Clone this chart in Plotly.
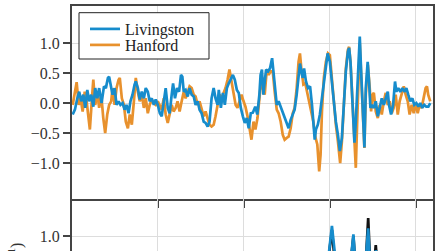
import plotly.graph_objects as go
from plotly.subplots import make_subplots

# ---- data (time in s, strain in 1e-21) ----
t_liv = [0.2504, 0.2517, 0.2531, 0.2542, 0.2554, 0.2566, 0.2577, 0.2589, 0.2600, 0.2612,
         0.2624, 0.2635, 0.2647, 0.2658, 0.2672, 0.2686, 0.2697, 0.2709, 0.2716, 0.2724,
         0.2736, 0.2748, 0.2759, 0.2771, 0.2782, 0.2794, 0.2806, 0.2817, 0.2829, 0.2840,
         0.2852, 0.2864, 0.2871, 0.2883, 0.2894, 0.2906, 0.2918, 0.2929, 0.2941, 0.2952,
         0.2964, 0.2976, 0.2987, 0.2999, 0.3011, 0.3022, 0.3034, 0.3045, 0.3057, 0.3068,
         0.3080, 0.3088, 0.3099, 0.3111, 0.3123, 0.3134, 0.3142, 0.3150, 0.3161, 0.3173,
         0.3184, 0.3196, 0.3208, 0.3219, 0.3231, 0.3242, 0.3254, 0.3266, 0.3277, 0.3289,
         0.3300, 0.3312, 0.3324, 0.3335, 0.3347, 0.3354, 0.3366, 0.3378, 0.3389, 0.3401,
         0.3412, 0.3424, 0.3436, 0.3447, 0.3459, 0.3470, 0.3482, 0.3494, 0.3505, 0.3517,
         0.3528, 0.3540, 0.3552, 0.3566, 0.3578, 0.3590, 0.3597, 0.3605, 0.3613, 0.3621,
         0.3629, 0.3641, 0.3652, 0.3664, 0.3671, 0.3679, 0.3691, 0.3702, 0.3714, 0.3726,
         0.3737, 0.3749, 0.3760, 0.3772, 0.3784, 0.3795, 0.3807, 0.3818, 0.3826, 0.3834,
         0.3842, 0.3850, 0.3861, 0.3873, 0.3885, 0.3896, 0.3908, 0.3912, 0.3919, 0.3930,
         0.3942, 0.3954, 0.3965, 0.3977, 0.3987, 0.4000, 0.4012, 0.4023, 0.4035, 0.4047,
         0.4058, 0.4070, 0.4081, 0.4093, 0.4105, 0.4112, 0.4120, 0.4131, 0.4143, 0.4151,
         0.4163, 0.4174, 0.4182, 0.4194, 0.4201, 0.4209, 0.4220, 0.4228, 0.4236, 0.4244,
         0.4256, 0.4267, 0.4279, 0.4290, 0.4302, 0.4314, 0.4325, 0.4337, 0.4344, 0.4356,
         0.4368, 0.4379, 0.4387, 0.4398, 0.4410, 0.4422, 0.4433, 0.4445, 0.4456, 0.4468,
         0.4480, 0.4491, 0.4503, 0.4515, 0.4526, 0.4538, 0.4549, 0.4561, 0.4573, 0.4584]
h_liv = [-0.19, -0.11, 0.08, 0.19, 0.03, 0.14, -0.08, 0.22, 0.03, 0.14,
         -0.06, 0.25, 0.08, 0.25, 0.00, 0.28, 0.25, 0.42, 0.44, 0.31,
         0.14, 0.25, -0.03, 0.03, -0.03, 0.00, -0.11, -0.03, -0.17, 0.03,
         0.14, 0.31, 0.36, 0.25, 0.06, 0.19, 0.08, 0.25, 0.19, 0.03,
         0.08, -0.03, 0.06, -0.03, -0.17, -0.22, 0.08, 0.25, -0.08, -0.17,
         0.14, 0.33, 0.08, 0.25, 0.19, 0.47, 0.44, 0.19, 0.22, 0.11,
         0.25, 0.14, 0.11, -0.03, 0.03, -0.11, -0.17, -0.31, -0.33, -0.39,
         -0.31, 0.08, 0.25, 0.08, -0.03, 0.22, -0.08, 0.17, -0.03, 0.25,
         0.33, 0.39, 0.47, 0.39, 0.22, 0.17, -0.08, -0.22, -0.33, -0.25,
         -0.42, -0.17, -0.16, -0.06, -0.19, 0.14, 0.47, 0.56, 0.14, 0.36,
         0.56, 0.53, 0.58, 0.75, 0.53, 0.31, -0.03, 0.03, -0.06, -0.14,
         -0.22, -0.31, -0.42, -0.28, -0.17, -0.11, 0.14, 0.47, 0.66, 0.53,
         0.42, 0.58, 0.36, 0.25, 0.28, -0.03, -0.50, -0.61, -0.44, -0.36,
         -0.19, 0.08, 0.42, 0.69, 0.83, 0.69, 0.36, -0.03, -0.31, -0.53,
         -0.80, -0.58, -0.03, 0.53, 0.86, 0.92, 0.69, -0.03, -0.66, -0.31,
         0.47, 1.11, 0.53, -0.47, -0.74, 0.25, 0.69, 0.36, -0.08, -0.03,
         -0.08, 0.03, -0.22, -0.08, 0.08, -0.03, 0.06, 0.19, -0.03, -0.19,
         -0.03, 0.36, 0.19, 0.25, 0.19, 0.25, 0.19, 0.25, 0.14, 0.03,
         0.08, -0.03, 0.00, -0.06, 0.00, -0.08, -0.03, -0.06, -0.06, 0.00]

t_han = [0.2504, 0.2516, 0.2527, 0.2539, 0.2550, 0.2562, 0.2574, 0.2585, 0.2597, 0.2604,
         0.2616, 0.2624, 0.2635, 0.2647, 0.2658, 0.2670, 0.2682, 0.2693, 0.2705, 0.2716,
         0.2728, 0.2736, 0.2748, 0.2759, 0.2771, 0.2778, 0.2790, 0.2802, 0.2813, 0.2825,
         0.2836, 0.2848, 0.2860, 0.2871, 0.2883, 0.2894, 0.2906, 0.2918, 0.2929, 0.2941,
         0.2952, 0.2964, 0.2976, 0.2987, 0.2999, 0.3011, 0.3022, 0.3034, 0.3045, 0.3057,
         0.3068, 0.3080, 0.3091, 0.3103, 0.3114, 0.3126, 0.3138, 0.3150, 0.3161, 0.3173,
         0.3184, 0.3196, 0.3208, 0.3219, 0.3231, 0.3242, 0.3254, 0.3266, 0.3277, 0.3289,
         0.3300, 0.3312, 0.3324, 0.3335, 0.3347, 0.3358, 0.3370, 0.3382, 0.3393, 0.3405,
         0.3416, 0.3428, 0.3440, 0.3452, 0.3463, 0.3475, 0.3486, 0.3498, 0.3509, 0.3521,
         0.3532, 0.3544, 0.3556, 0.3567, 0.3579, 0.3590, 0.3602, 0.3610, 0.3621, 0.3633,
         0.3644, 0.3656, 0.3668, 0.3679, 0.3691, 0.3702, 0.3714, 0.3726, 0.3737, 0.3749,
         0.3760, 0.3772, 0.3784, 0.3795, 0.3807, 0.3818, 0.3826, 0.3834, 0.3846, 0.3857,
         0.3869, 0.3880, 0.3892, 0.3904, 0.3915, 0.3927, 0.3938, 0.3946, 0.3954, 0.3965,
         0.3977, 0.3989, 0.4000, 0.4012, 0.4023, 0.4035, 0.4047, 0.4060, 0.4070, 0.4081,
         0.4093, 0.4105, 0.4112, 0.4120, 0.4131, 0.4143, 0.4151, 0.4159, 0.4166, 0.4174,
         0.4182, 0.4194, 0.4201, 0.4209, 0.4221, 0.4232, 0.4240, 0.4248, 0.4256, 0.4267,
         0.4279, 0.4290, 0.4302, 0.4314, 0.4325, 0.4337, 0.4348, 0.4360, 0.4371, 0.4383,
         0.4395, 0.4406, 0.4418, 0.4430, 0.4441, 0.4453, 0.4464, 0.4476, 0.4488, 0.4499,
         0.4511, 0.4522, 0.4534, 0.4546, 0.4557, 0.4565, 0.4572, 0.4584]
h_han = [-0.03, 0.19, 0.35, -0.03, 0.08, -0.14, 0.19, 0.03, -0.25, -0.44,
         0.08, 0.39, -0.03, 0.17, -0.08, 0.14, -0.25, -0.50, -0.19, -0.03,
         0.03, 0.25, -0.03, 0.25, 0.39, 0.42, 0.08, -0.03, -0.31, -0.42,
         -0.19, -0.36, 0.03, 0.42, 0.19, 0.03, 0.14, -0.08, 0.08, -0.17,
         -0.03, 0.06, 0.00, -0.03, 0.03, -0.03, -0.11, 0.08, -0.19, -0.33,
         -0.19, -0.03, -0.14, -0.08, 0.03, -0.14, 0.03, 0.19, 0.08, 0.19,
         0.28, 0.25, 0.14, 0.11, -0.03, 0.03, -0.08, -0.22, -0.14, -0.25,
         -0.36, -0.39, -0.36, -0.22, -0.03, 0.14, 0.08, 0.17, 0.25, 0.39,
         0.56, 0.36, 0.14, -0.03, -0.08, 0.03, 0.14, 0.03, -0.06, -0.22,
         -0.39, -0.61, -0.31, -0.44, -0.25, 0.03, 0.42, 0.25, 0.14, 0.56,
         0.47, 0.53, 0.53, 0.19, -0.11, -0.17, -0.31, -0.53, -0.61, -0.58,
         -0.56, -0.42, -0.17, -0.08, 0.25, 0.69, 0.83, 0.58, 0.31, 0.33,
         0.17, -0.03, -0.14, -0.31, -0.56, -0.69, -1.14, -0.86, -0.14, 0.42,
         0.69, 0.83, 0.80, 0.36, -0.03, -0.36, -0.64, -1.00, -0.64, -0.03,
         0.58, 0.89, 0.94, 0.69, -0.03, -0.78, -1.08, -0.31, 0.47, 1.00,
         0.47, -0.47, -0.75, 0.14, 0.64, 0.25, -0.14, 0.14, 0.17, -0.14,
         -0.25, -0.03, -0.19, 0.03, 0.17, -0.03, 0.03, -0.17, -0.08, 0.14,
         -0.19, 0.03, 0.14, 0.28, 0.14, 0.03, -0.19, -0.03, -0.17, 0.00,
         -0.17, -0.03, -0.08, 0.08, 0.25, 0.28, 0.14, 0.03]

t_rec = [0.2500, 0.3000, 0.3500, 0.3800, 0.3900, 0.3960, 0.3990, 0.4012, 0.4035, 0.4070,
         0.4105, 0.4122, 0.4137, 0.4152, 0.4175, 0.4198, 0.4212, 0.4223, 0.4236, 0.4252,
         0.4267, 0.4282, 0.4320, 0.4400, 0.4600]
h_rec = [0.00, 0.05, -0.05, 0.20, 0.45, 0.10, 0.60, 1.17, 0.55, -0.70,
         0.40, 0.60, 1.03, 0.50, -0.60, 0.20, 0.70, 1.13, 0.40, 0.30,
         0.76, 0.30, 0.05, 0.02, 0.00]
h_nr = [0.00, 0.04, -0.04, 0.18, 0.42, 0.10, 0.58, 1.10, 0.52, -0.72,
        0.38, 0.58, 1.00, 0.48, -0.62, 0.20, 0.72, 1.30, 0.42, 0.30,
        0.85, 0.30, 0.04, 0.02, 0.00]

ticks_y = [-1.0, -0.5, 0.0, 0.5, 1.0]
ticks_x = [0.30, 0.35, 0.40, 0.45]

BLUE = "#168ccc"
ORANGE = "#e8912d"
FRAME = "#444444"
GRID = "#dddddd"
FONT = "Liberation Serif"

fig = make_subplots(rows=2, cols=1, shared_xaxes=False, vertical_spacing=0)

fig.add_trace(go.Scatter(x=t_han, y=h_han, mode="lines", name="Hanford",
                         line=dict(color=ORANGE, width=2.7), legend="legend2"), row=1, col=1)
fig.add_trace(go.Scatter(x=t_liv, y=h_liv, mode="lines", name="Livingston",
                         line=dict(color=BLUE, width=2.7), legend="legend"), row=1, col=1)
fig.add_trace(go.Scatter(x=t_rec, y=h_nr, mode="lines", name="NR",
                         line=dict(color="#111111", width=2.7), showlegend=False), row=2, col=1)
fig.add_trace(go.Scatter(x=t_rec, y=h_rec, mode="lines", name="Reconstructed",
                         line=dict(color=BLUE, width=2.7), showlegend=False), row=2, col=1)

W, H = 441, 251
L, R, T, B = 72, 8, 6, 0
pw, ph = W - L - R, H - T - B
split = (H - 199) / ph

def px_x(p):
    return (p - L) / pw

def px_y(p):
    return (H - B - p) / ph

axis_common = dict(showgrid=True, gridcolor=GRID, gridwidth=1, zeroline=False,
                   linecolor=FRAME, linewidth=2, tickcolor=FRAME, tickwidth=1.5,
                   tickfont=dict(family=FONT, size=16, color="#333333"))
axis_nolines = {k: v for k, v in axis_common.items() if k not in ("linecolor", "linewidth")}

fig.update_layout(
    width=W, height=H, margin=dict(l=L, r=R, t=T, b=B),
    paper_bgcolor="white", plot_bgcolor="white",
    showlegend=True,
    xaxis=dict(domain=[0, 1], range=[0.25, 0.46], tickvals=ticks_x, showticklabels=False,
               ticks="outside", ticklen=7, showline=True, mirror=True, anchor="y", **axis_common),
    yaxis=dict(domain=[split, 1], range=[-1.6, 1.62], tickvals=ticks_y, tickformat=".1f",
               ticks="outside", ticklen=7, showline=True, mirror=True, anchor="x", **axis_common),
    xaxis2=dict(domain=[0, 1], range=[0.25, 0.46], tickvals=ticks_x, showticklabels=False,
                ticks="", showline=False, anchor="y2", matches="x", **axis_nolines),
    yaxis2=dict(domain=[0, split], range=[0.75, 1.62], tickvals=ticks_y, tickformat=".1f",
                ticks="outside", ticklen=7, showline=True, mirror=True, anchor="x2", **axis_common),
    legend=dict(x=px_x(85), y=px_y(12), xanchor="left", yanchor="top",
                bgcolor="rgba(0,0,0,0)", borderwidth=0,
                font=dict(family=FONT, size=16, color="#222222")),
    legend2=dict(x=px_x(85), y=px_y(28), xanchor="left", yanchor="top",
                 bgcolor="rgba(0,0,0,0)", borderwidth=0,
                 font=dict(family=FONT, size=16, color="#222222")),
)

fig.add_shape(type="rect", xref="paper", yref="paper",
              x0=px_x(79), x1=px_x(209), y0=px_y(59), y1=px_y(12.7),
              line=dict(color="#222222", width=1), fillcolor="white", layer="above")

fig.add_annotation(text="Strain (10<sup>\u221221</sup>)", textangle=-90,
                   xref="paper", yref="paper", x=px_x(15), y=px_y(241),
                   xanchor="center", yanchor="top", showarrow=False,
                   font=dict(family=FONT, size=16, color="#333333"))

fig.write_html("out.html")
